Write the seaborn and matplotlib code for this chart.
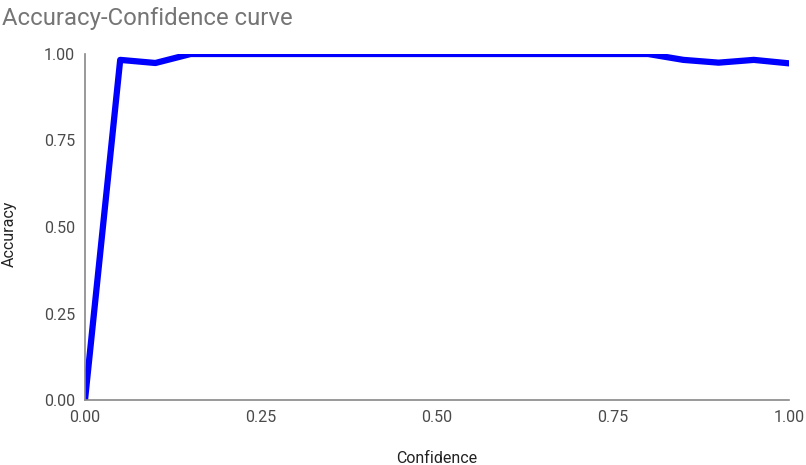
import matplotlib
matplotlib.use('Agg')
import matplotlib.pyplot as plt
import seaborn as sns
import pandas as pd

# Данные кривой
confidence = [0.0, 0.05, 0.10, 0.15, 0.20, 0.25, 0.30, 0.35, 0.40, 0.45, 0.50,
              0.55, 0.60, 0.65, 0.70, 0.75, 0.80, 0.85, 0.90, 0.95, 1.00]
accuracy = [0.0, 0.983, 0.974, 1.0, 1.0, 1.0, 1.0, 1.0, 1.0, 1.0, 1.0,
            1.0, 1.0, 1.0, 1.0, 1.0, 1.0, 0.983, 0.975, 0.983, 0.973]
x_ticks = [0.0, 0.25, 0.5, 0.75, 1.0]
y_ticks = [0.0, 0.25, 0.5, 0.75, 1.0]

df = pd.DataFrame({'Confidence': confidence, 'Accuracy': accuracy})

sns.set_style('white')
plt.rcParams['font.family'] = ['Roboto', 'DejaVu Sans']

fig = plt.figure(figsize=(8.06, 4.65), dpi=100)
ax = fig.add_axes([85 / 806, 65 / 465, 704 / 806, 346 / 465])

sns.lineplot(x='Confidence', y='Accuracy', data=df, ax=ax, color='#0000ff',
             linewidth=4.5)

ax.set_xlim(0, 1)
ax.set_ylim(0, 1)
ax.set_xticks(x_ticks)
ax.set_yticks(y_ticks)
ax.set_xticklabels([f'{v:.2f}' for v in x_ticks])
ax.set_yticklabels([f'{v:.2f}' for v in y_ticks])
ax.tick_params(axis='both', length=0, labelsize=11.5, labelcolor='#4a4a4a', pad=7)

for side in ['top', 'right']:
    ax.spines[side].set_visible(False)
for side in ['left', 'bottom']:
    ax.spines[side].set_color('#888888')
    ax.spines[side].set_linewidth(1.2)

ax.set_xlabel('Confidence', fontsize=11.5, color='#222222')
ax.set_ylabel('Accuracy', fontsize=11.5, color='#222222')
ax.xaxis.set_label_coords(0.5, -0.146)
ax.yaxis.set_label_coords(-0.097, 0.48)

fig.text(0.002, 0.985, 'Accuracy-Confidence curve', fontsize=17.2, color='#757575',
         ha='left', va='top')

fig.savefig('out.png', dpi=100)
